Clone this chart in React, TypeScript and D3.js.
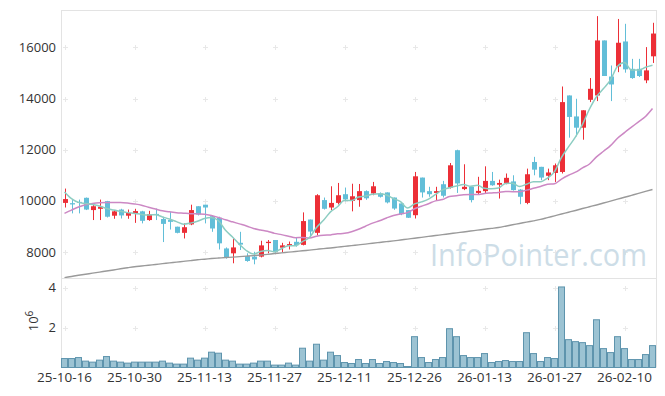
import * as d3 from "d3";

// trading days (yy-mm-dd)
const dates = [
  "25-10-16", "25-10-17", "25-10-20", "25-10-21", "25-10-22", "25-10-23", "25-10-24", "25-10-27", "25-10-28", "25-10-29",
  "25-10-30", "25-10-31", "25-11-03", "25-11-04", "25-11-05", "25-11-06", "25-11-07", "25-11-10", "25-11-11", "25-11-12",
  "25-11-13", "25-11-14", "25-11-17", "25-11-18", "25-11-19", "25-11-20", "25-11-21", "25-11-24", "25-11-25", "25-11-26",
  "25-11-27", "25-11-28", "25-12-01", "25-12-02", "25-12-03", "25-12-04", "25-12-05", "25-12-08", "25-12-09", "25-12-10",
  "25-12-11", "25-12-12", "25-12-15", "25-12-16", "25-12-17", "25-12-18", "25-12-19", "25-12-22", "25-12-23", "25-12-24",
  "25-12-26", "25-12-29", "25-12-30", "26-01-02", "26-01-05", "26-01-06", "26-01-07", "26-01-08", "26-01-09", "26-01-12",
  "26-01-13", "26-01-14", "26-01-15", "26-01-16", "26-01-19", "26-01-20", "26-01-21", "26-01-22", "26-01-23", "26-01-26",
  "26-01-27", "26-01-28", "26-01-29", "26-01-30", "26-02-02", "26-02-03", "26-02-04", "26-02-05", "26-02-06", "26-02-09",
  "26-02-10", "26-02-11", "26-02-12", "26-02-13", "26-02-19",
];

const open = [
  9920, 9910, 9960, 10120, 9640, 9690, 9990, 9420, 9660, 9420,
  9510, 9590, 9250, 9490, 9290, 9250, 8990, 8750, 9080, 9790,
  9850, 9400, 9340, 8140, 7950, 8360, 7840, 7820, 7820, 8350,
  8470, 8170, 8250, 8400, 8280, 9270, 8750, 10030, 9740, 9920,
  10260, 10000, 10030, 10380, 10290, 10290, 10330, 10130, 9900, 9640,
  9440, 10910, 10380, 10310, 10650, 10520, 11980, 10460, 10550, 10310,
  10380, 10780, 10630, 10700, 10760, 10440, 9920, 11520, 11330, 10980,
  11090, 11130, 14120, 13300, 12860, 13950, 14120, 16270, 14860, 15250,
  16230, 15160, 15160, 14710, 15650,
];
const close = [
  10070, 9860, 9920, 9660, 9790, 9770, 9380, 9590, 9430, 9530,
  9600, 9220, 9480, 9460, 9100, 9180, 8750, 8970, 9640, 9470,
  9740, 8920, 8340, 7790, 8180, 8290, 7650, 7710, 8260, 8400,
  8010, 8260, 8310, 8270, 9210, 8800, 10220, 9690, 9920, 10220,
  10060, 10180, 10380, 10100, 10570, 10160, 9940, 9700, 9480, 9340,
  10960, 10330, 10260, 10380, 10200, 11390, 10680, 10550, 10030, 10390,
  10780, 10610, 10700, 10900, 10420, 10160, 11040, 11220, 10910, 11110,
  11390, 13860, 13280, 12860, 13540, 14380, 16270, 14880, 14550, 16180,
  15140, 14800, 14880, 15100, 16540,
];
const high = [
  10480, 10030, 10050, 10130, 9900, 10050, 10000, 9640, 9690, 9660,
  9690, 9610, 9610, 9700, 9380, 9570, 8990, 9120, 9850, 9790,
  9850, 9440, 9380, 8180, 8530, 8790, 7950, 8010, 8440, 8470,
  8470, 8360, 8410, 8560, 9550, 9270, 10260, 10130, 10570, 10700,
  10520, 10670, 10660, 10410, 10740, 10330, 10330, 10130, 9900, 9640,
  11130, 10910, 10550, 10550, 10780, 11480, 12000, 11430, 10550, 10940,
  11350, 11130, 10830, 11070, 11000, 10460, 11260, 11720, 11330, 11260,
  11460, 14470, 14120, 13990, 13540, 14800, 17220, 16270, 15290, 17110,
  16920, 15550, 15550, 16010, 16960,
];
const low = [
  9740, 9510, 9510, 9640, 9250, 9250, 9350, 9300, 9310, 9300,
  9140, 9120, 9220, 9250, 8390, 8880, 8730, 8530, 9050, 9430,
  9120, 8790, 8100, 7740, 7560, 8080, 7620, 7520, 7790, 7950,
  7970, 7990, 8100, 8210, 8260, 8600, 8650, 9660, 9640, 9860,
  9980, 9590, 9770, 10040, 10220, 10130, 9900, 9650, 9440, 9330,
  9310, 10130, 10160, 10030, 10130, 10480, 10310, 10420, 9940, 10260,
  10290, 10590, 10090, 10650, 10400, 9870, 9870, 11000, 10810, 10810,
  10740, 11070, 12470, 12520, 12390, 13860, 13900, 14880, 13900, 15030,
  15010, 14770, 14840, 14600, 15390,
];

// volume, millions of shares
const volume = [
  0.45, 0.45, 0.5, 0.32, 0.27, 0.37, 0.55, 0.32, 0.27, 0.22,
  0.27, 0.27, 0.27, 0.27, 0.32, 0.22, 0.17, 0.17, 0.47, 0.37,
  0.47, 0.77, 0.72, 0.37, 0.32, 0.17, 0.17, 0.22, 0.32, 0.32,
  0.12, 0.12, 0.22, 0.12, 0.97, 0.32, 1.17, 0.37, 0.77, 0.6,
  0.25, 0.2, 0.4, 0.2, 0.4, 0.2, 0.3, 0.25, 0.2, 0.05,
  1.55, 0.5, 0.25, 0.4, 0.5, 1.95, 1.55, 0.6, 0.5, 0.5,
  0.7, 0.25, 0.3, 0.35, 0.3, 0.3, 1.75, 0.7, 0.3, 0.5,
  0.45, 4.05, 1.4, 1.3, 1.25, 1.1, 2.4, 0.95, 0.75, 1.55,
  0.95, 0.4, 0.4, 0.65, 1.1,
];

// moving averages as drawn
const ma5 = [
  10350, 10090, 9940, 9900, 9860, 9800, 9700, 9640, 9590, 9540,
  9510, 9470, 9450, 9460, 9370, 9290, 9190, 9090, 9130, 9200,
  9310, 9350, 9220, 8850, 8590, 8300, 8050, 7920, 8020, 8060,
  8010, 8130, 8250, 8250, 8410, 8570, 8960, 9240, 9570, 9770,
  10020, 10010, 10150, 10190, 10260, 10280, 10230, 10090, 9970, 9720,
  9880, 9960, 10070, 10250, 10430, 10510, 10580, 10640, 10570, 10610,
  10490, 10470, 10500, 10680, 10690, 10560, 10650, 10750, 10750, 10890,
  11140, 11700, 12110, 12500, 12990, 13590, 14070, 14390, 14730, 15260,
  15410, 15110, 15110, 15220, 15300,
];
const ma20 = [
  9510, 9640, 9760, 9850, 9900, 9930, 9940, 9940, 9940, 9920,
  9880, 9830, 9750, 9680, 9610, 9570, 9540, 9520, 9500, 9490,
  9480, 9430, 9350, 9260, 9180, 9100, 9020, 8920, 8860, 8810,
  8730, 8680, 8620, 8560, 8570, 8550, 8620, 8660, 8670, 8710,
  8730, 8790, 8890, 9010, 9130, 9220, 9330, 9430, 9490, 9540,
  9690, 9790, 9890, 10000, 10050, 10170, 10200, 10240, 10250, 10250,
  10290, 10310, 10330, 10370, 10360, 10360, 10420, 10490, 10560, 10650,
  10670, 10850, 11000, 11120, 11290, 11440, 11720, 11940, 12160, 12450,
  12670, 12880, 13090, 13300, 13610,
];
const maLong = [
  7000, 7045, 7090, 7130, 7175, 7215, 7260, 7300, 7345, 7385,
  7425, 7455, 7485, 7515, 7545, 7575, 7605, 7635, 7665, 7700,
  7720, 7745, 7765, 7785, 7800, 7820, 7840, 7860, 7885, 7910,
  7940, 7965, 7995, 8020, 8050, 8075, 8105, 8135, 8160, 8190,
  8220, 8250, 8280, 8310, 8345, 8375, 8405, 8435, 8470, 8505,
  8540, 8575, 8610, 8645, 8680, 8715, 8750, 8785, 8820, 8855,
  8890, 8925, 8960, 9010, 9065, 9115, 9170, 9220, 9275, 9345,
  9415, 9485, 9555, 9625, 9700, 9770, 9840, 9915, 9990, 10065,
  10140, 10215, 10290, 10370, 10445,
];

const priceTicks = [8000, 10000, 12000, 14000, 16000];
const volTicks = [2, 4];
const dateTickEvery = 10;

const W = 665;
const H = 396;
const left = 61;
const right = 656;
const top = 10;
const split = 278;
const bottom = 367.5;
const font = "'Open Sans', 'Noto Sans', sans-serif";
const upColor = "#ec2f37";
const downColor = "#62bed8";

export default function App() {
  const idx = d3.range(dates.length);
  const x = d3.scaleBand<number>().domain(idx).range([left, right]);
  const bw = x.bandwidth();
  const cx = (i: number) => x(i)! + bw / 2;
  const yP = d3.scaleLinear().domain([6985, 17460]).range([split, top]);
  const yV = d3.scaleLinear().domain([0, 4.5]).range([bottom, split]);

  const line = (vals: number[]) =>
    d3.line<number>().x((_, i) => cx(i)).y(d => yP(d)).curve(d3.curveMonotoneX)(vals)!;

  const xTickIdx = idx.filter(i => i % dateTickEvery === 0);
  const cross = (px: number, py: number, k: string) => (
    <g key={k} stroke="#e8e8e8" strokeWidth={1}>
      <line x1={px - 2.5} x2={px + 2.5} y1={py} y2={py} />
      <line x1={px} x2={px} y1={py - 2.5} y2={py + 2.5} />
    </g>
  );

  return (
    <div style={{ position: "fixed", left: 0, top: 0 }}>
      <svg width={W} height={H} style={{ display: "block", background: "#fff" }}>
        <defs>
          <clipPath id="pricePane">
            <rect x={left} y={top} width={right - left} height={split - top} />
          </clipPath>
        </defs>

        {/* frame */}
        <g stroke="#e3e3e3" strokeWidth={1} fill="none">
          <line x1={left} x2={right} y1={top + 0.5} y2={top + 0.5} />
          <line x1={left} x2={right} y1={split + 0.5} y2={split + 0.5} />
          <line x1={left + 0.5} x2={left + 0.5} y1={top} y2={bottom} />
          <line x1={right + 0.5} x2={right + 0.5} y1={top} y2={bottom} />
        </g>

        {/* grid crosses */}
        {xTickIdx.map(i =>
          priceTicks.map(t => cross(Math.round(cx(i)) + 0.5, Math.round(yP(t)) + 0.5, `p${i}-${t}`))
        )}
        {xTickIdx.map(i =>
          volTicks.map(t => cross(Math.round(cx(i)) + 0.5, Math.round(yV(t)) + 0.5, `v${i}-${t}`))
        )}

        {/* watermark */}
        <text x={430} y={266} fontFamily={font} fontSize={31} fill="#cddde7" textLength={217} lengthAdjust="spacingAndGlyphs">
          InfoPointer.com
        </text>

        {/* candles */}
        <g clipPath="url(#pricePane)">
          {idx.map(i => {
            const up = close[i] >= open[i];
            const c = up ? upColor : downColor;
            const yTop = yP(Math.max(open[i], close[i]));
            const yBot = yP(Math.min(open[i], close[i]));
            const mid = Math.round(cx(i)) + 0.5;
            return (
              <g key={i}>
                <line x1={mid} x2={mid} y1={yP(high[i])} y2={yP(low[i])} stroke={c} strokeWidth={1} />
                <rect x={mid - 2.5} y={yTop} width={5} height={Math.max(1, yBot - yTop)} fill={c} />
              </g>
            );
          })}
          <path d={line(maLong)} fill="none" stroke="#9a9a9a" strokeWidth={1.4} />
          <path d={line(ma20)} fill="none" stroke="#cc88c4" strokeWidth={1.5} />
          <path d={line(ma5)} fill="none" stroke="#8dcdc2" strokeWidth={1.5} />
        </g>

        {/* volume */}
        <g fill="#9cc3d3" stroke="#5e94ad" strokeWidth={1}>
          {idx.map(i => (
            <rect key={i} x={x(i)! + 0.5} y={yV(volume[i])} width={bw - 1} height={bottom - yV(volume[i])} />
          ))}
        </g>

        {/* axis labels */}
        <g fontFamily={font} fontSize={13} fill="#333">
          {priceTicks.map(t => (
            <text key={t} x={56} y={yP(t)} dy="0.35em" textAnchor="end">{t}</text>
          ))}
          {volTicks.map(t => (
            <text key={t} x={56} y={yV(t)} dy="0.35em" textAnchor="end">{t}</text>
          ))}
          {xTickIdx.map(i => (
            <text key={i} x={cx(i)} y={382} textAnchor="middle" fontSize={13.5}>{dates[i]}</text>
          ))}
          <text transform="translate(38,321) rotate(-90)" textAnchor="middle">
            10<tspan dy={-5} fontSize={10}>6</tspan>
          </text>
        </g>
      </svg>
    </div>
  );
}
